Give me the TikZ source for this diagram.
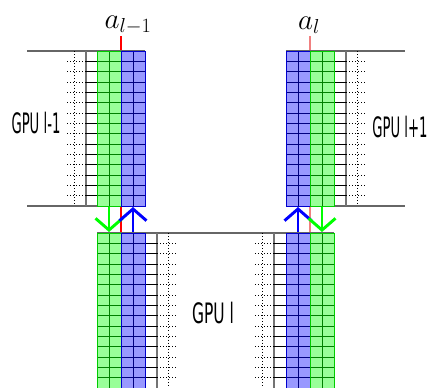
\documentclass[tikz,border=0pt]{standalone}
\usepackage{fontspec}
\setsansfont{DejaVu Sans}
\usepackage{tikz}
\usetikzlibrary{arrows.meta}
\definecolor{cutred}{HTML}{FF0000}
\definecolor{cutpink}{HTML}{F08080}

\def\cellh{10.333}
% one column of activations, 2 x 15 cells
\newcommand{\actcol}[3]{%
  \fill[#3!40] (#1,#2) rectangle ++(24,155);
  \foreach \r in {1,...,14}
    \draw[#3!50!black, line width=0.5pt] (#1,{#2+\r*\cellh}) -- ++(24,0);
  \draw[#3!50!black, line width=0.5pt] ({#1+12},#2) -- ++(0,155);
  \draw[#3!80!black, line width=0.8pt] (#1,#2) rectangle ++(24,155);
}
% units of a layer: solid wire, dotted wire
\newcommand{\unitcomb}[5]{%
  \draw[black!55, line width=0.9pt] (#1,#5) -- ++(0,155);
  \draw[dotted, line width=0.6pt] (#3,#5) -- ++(0,155);
  \foreach \r in {1,...,14} {
    \draw[line width=0.6pt] (#1,{#5+\r*\cellh}) -- (#2,{#5+\r*\cellh});
    \draw[dotted, line width=0.6pt] (#1,{#5+\r*\cellh}) -- (#4,{#5+\r*\cellh});
  }
}
\newcommand{\gpuname}[2]{\scalebox{#1}[1]{#2}}

\tikzset{
  gpulabel/.style={font=\fontsize{24}{24}\selectfont\sffamily, inner sep=0pt},
  actlabel/.style={font=\fontsize{23}{23}\selectfont, inner sep=0pt, anchor=base},
  layerline/.style={black!60, line width=1.2pt},
  sendarrow/.style={line width=2.5pt, -{Straight Barb[length=10pt,width=23pt]}}
}

\begin{document}
\begin{tikzpicture}[x=0.03cm, y=-0.03cm]
  \useasboundingbox (0,0) rectangle (427,387);

  \node[actlabel] (aprev) at (128,28) {$a_{l-1}$};
  \node[actlabel] (acur) at (309,29) {$a_l$};
  \coordinate (cutprevtop) at (121,36);
  \coordinate (cutprevbot) at (121,233);
  \coordinate (cutcurtop) at (310,36);
  \coordinate (cutcurbot) at (310,233);
  \draw[cutred, line width=0.9pt] (cutprevtop) -- (cutprevbot);
  \draw[cutpink, line width=0.9pt] (cutcurtop) -- (cutcurbot);

  \draw[layerline] (27,51) -- (145,51);
  \draw[layerline] (27,206) -- (145,206);
  \draw[layerline] (286,51) -- (405,51);
  \draw[layerline] (286,206) -- (405,206);
  \draw[layerline] (97,233) -- (334,233);

  % GPU l-1
  \unitcomb{86}{97}{74}{67}{51}
  \actcol{97}{51}{green}
  \actcol{121}{51}{blue}
  % GPU l+1
  \unitcomb{346}{334}{357}{365}{51}
  \actcol{286}{51}{blue}
  \actcol{310}{51}{green}
  % GPU l
  \unitcomb{157}{145}{168}{176}{233}
  \unitcomb{274}{286}{262}{254}{233}
  \actcol{97}{233}{green}
  \actcol{121}{233}{blue}
  \actcol{286}{233}{blue}
  \actcol{310}{233}{green}

  \node[gpulabel] (gpuprev) at (36,123) {\gpuname{0.47}{GPU l-1}};
  \node[gpulabel] (gpunext) at (400,127) {\gpuname{0.47}{GPU l+1}};
  \node[gpulabel] (gpucur) at (213,313) {\gpuname{0.55}{GPU l}};

  \coordinate (gprevtop) at (109,207);
  \coordinate (gprevbot) at (109,232);
  \coordinate (bprevtop) at (133,207);
  \coordinate (bprevbot) at (133,232);
  \coordinate (bnexttop) at (298,207);
  \coordinate (bnextbot) at (298,232);
  \coordinate (gnexttop) at (322,207);
  \coordinate (gnextbot) at (322,232);
  \draw[sendarrow, green] (gprevtop) -- (gprevbot);
  \draw[sendarrow, blue] (bprevbot) -- (bprevtop);
  \draw[sendarrow, blue] (bnextbot) -- (bnexttop);
  \draw[sendarrow, green] (gnexttop) -- (gnextbot);
\end{tikzpicture}
\end{document}
